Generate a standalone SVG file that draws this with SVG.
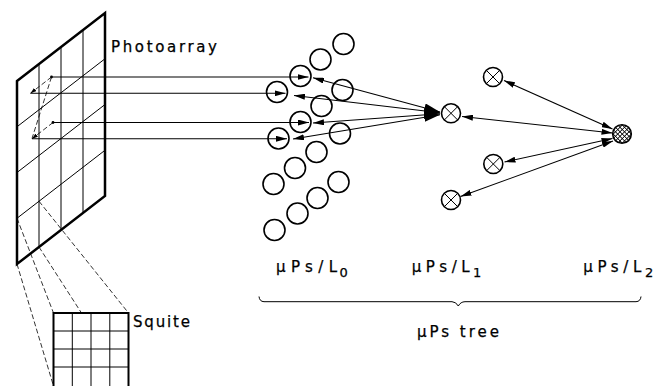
<svg xmlns="http://www.w3.org/2000/svg" width="663" height="386" viewBox="0 0 663 386">
  <style>
    .frame { fill: none; stroke: #000; stroke-width: 2.5; stroke-linejoin: miter; }
    .grid { fill: none; stroke: #000; stroke-width: 1; }
    .dash { fill: none; stroke: #000; stroke-width: 0.8; stroke-dasharray: 5 2.5; }
    .link { fill: none; stroke: #000; stroke-width: 1.1; }
    .pe { fill: #fff; stroke: #000; stroke-width: 1.6; }
    .xmark { stroke: #000; stroke-width: 1; }
    .lbl { font-family: "DejaVu Sans", "Liberation Sans", sans-serif; fill: #000; stroke: #000; stroke-width: 0.25; }
  </style>
  <defs>
    <marker id="ah" viewBox="0 0 11 6" refX="11" refY="3" markerWidth="11" markerHeight="6" markerUnits="userSpaceOnUse" orient="auto-start-reverse">
      <path d="M0,0 L11,3 L0,6 z" fill="#000"/>
    </marker>
    <marker id="ahb" viewBox="0 0 16 9" refX="16" refY="4.5" markerWidth="16" markerHeight="9" markerUnits="userSpaceOnUse" orient="auto-start-reverse">
      <path d="M0,0 L16,4.5 L0,9 z" fill="#000"/>
    </marker>
    <marker id="ahs" viewBox="0 0 6 4" refX="6" refY="2" markerWidth="6" markerHeight="4" markerUnits="userSpaceOnUse" orient="auto">
      <path d="M0,0 L6,2 L0,4 z" fill="#000"/>
    </marker>
    <pattern id="hatch" width="3.2" height="3.2" patternUnits="userSpaceOnUse" patternTransform="rotate(45)">
      <rect width="3.2" height="3.2" fill="#fff"/>
      <path d="M0,0 H3.2 M0,0 V3.2" stroke="#000" stroke-width="1.6"/>
    </pattern>
    <g id="xnode">
      <circle r="9.5" class="pe"/>
      <path d="M-6.7,-6.7 L6.7,6.7 M-6.7,6.7 L6.7,-6.7" class="xmark"/>
    </g>
  </defs>

  <rect width="663" height="386" fill="#fff"/>

  <!-- photo sensor array, shown in perspective -->
  <g id="photoarray">
    <path class="grid" d="M39,64 V247 M61,47 V230 M83,30 V213"/>
    <path class="grid" d="M17,126.75 L105,58.75 M17,172.5 L105,104.5 M17,218.25 L105,150.25"/>
    <polygon class="frame" points="17,81 105,13 105,196 17,264"/>
    <!-- scan order inside the upper cells -->
    <circle cx="51.5" cy="77" r="1.4" fill="#000"/>
    <circle cx="53" cy="122.5" r="1.4" fill="#000"/>
    <line class="dash" x1="51.5" y1="77" x2="30.5" y2="93.3" marker-end="url(#ahs)"/>
    <line class="dash" x1="51.5" y1="77" x2="32" y2="138.5"/>
    <line class="dash" x1="53" y1="122.5" x2="32" y2="138.8" marker-end="url(#ahs)"/>
    <text class="lbl" x="111" y="52" font-size="15" textLength="106" lengthAdjust="spacing">Photoarray</text>
  </g>

  <!-- projection of one cell onto the enlarged squite -->
  <g id="projection">
    <line class="dash" x1="17" y1="218.25" x2="53.5" y2="313"/>
    <line class="dash" x1="39" y1="201.25" x2="128.5" y2="313"/>
    <line class="dash" x1="17" y1="264" x2="53.5" y2="386"/>
    <line class="dash" x1="39" y1="247" x2="128.5" y2="386"/>
  </g>

  <g id="squite">
    <rect x="53.5" y="313" width="75" height="75" fill="#fff" stroke="#000" stroke-width="2"/>
    <path class="grid" d="M72.3,313 V388 M91,313 V388 M109.8,313 V388 M53.5,331 H128.5 M53.5,349 H128.5 M53.5,367 H128.5"/>
    <text class="lbl" x="133" y="327" font-size="15" textLength="57" lengthAdjust="spacing">Squite</text>
  </g>

  <!-- level 0 processors -->
  <g id="level0">
    <circle class="pe" cx="343.5" cy="44" r="10.5"/>
    <circle class="pe" cx="320.5" cy="59.5" r="10.5"/>
    <circle class="pe" cx="300.5" cy="76" r="10.5"/>
    <circle class="pe" cx="342.5" cy="90" r="10.5"/>
    <circle class="pe" cx="277" cy="92" r="10.5"/>
    <circle class="pe" cx="321.5" cy="106" r="10.5"/>
    <circle class="pe" cx="300.5" cy="122" r="10.5"/>
    <circle class="pe" cx="340" cy="133.5" r="10.5"/>
    <circle class="pe" cx="278.5" cy="138.5" r="10.5"/>
    <circle class="pe" cx="316.5" cy="152" r="10.5"/>
    <circle class="pe" cx="295" cy="168" r="10.5"/>
    <circle class="pe" cx="273.5" cy="184" r="10.5"/>
    <circle class="pe" cx="338.5" cy="182" r="10.5"/>
    <circle class="pe" cx="317.5" cy="198" r="10.5"/>
    <circle class="pe" cx="297.5" cy="213.5" r="10.5"/>
    <circle class="pe" cx="274.5" cy="230" r="10.5"/>
  </g>

  <!-- level 1 processors -->
  <g id="level1-a"><use href="#xnode" x="451" y="113.3"/></g>
  <g id="level1-b"><use href="#xnode" x="493" y="77"/></g>
  <g id="level1-c"><use href="#xnode" x="493.3" y="164"/></g>
  <g id="level1-d"><use href="#xnode" x="451" y="200"/></g>

  <!-- level 2 processor -->
  <g id="level2">
    <circle cx="622" cy="134" r="9.3" fill="url(#hatch)" stroke="#000" stroke-width="1.6"/>
  </g>

  <g id="connectors">
    <!-- sensor rows to level 0 -->
    <line class="link" x1="51.5" y1="77" x2="308.5" y2="77" marker-end="url(#ah)"/>
    <line class="link" x1="30.5" y1="93.3" x2="285.5" y2="93.3" marker-end="url(#ah)"/>
    <line class="link" x1="53" y1="122.5" x2="309" y2="122.5" marker-end="url(#ah)"/>
    <line class="link" x1="32" y1="138.8" x2="287" y2="138.8" marker-end="url(#ah)"/>
    <!-- level 0 to level 1 -->
    <line class="link" x1="313" y1="77.8" x2="440" y2="112" marker-start="url(#ah)" marker-end="url(#ahb)"/>
    <line class="link" x1="294" y1="95.5" x2="440" y2="112.8" marker-start="url(#ah)" marker-end="url(#ahb)"/>
    <line class="link" x1="313" y1="123" x2="440" y2="113.8" marker-start="url(#ah)" marker-end="url(#ahb)"/>
    <line class="link" x1="293" y1="139" x2="440" y2="114.8" marker-start="url(#ah)" marker-end="url(#ahb)"/>
    <!-- level 1 to level 2 -->
    <line class="link" x1="504" y1="80.5" x2="612.5" y2="129" marker-start="url(#ah)" marker-end="url(#ah)"/>
    <line class="link" x1="462" y1="116.5" x2="612.5" y2="133" marker-start="url(#ah)" marker-end="url(#ah)"/>
    <line class="link" x1="504.5" y1="162" x2="612.5" y2="138.5" marker-start="url(#ah)" marker-end="url(#ah)"/>
    <line class="link" x1="460.5" y1="196.5" x2="613" y2="141" marker-start="url(#ah)" marker-end="url(#ah)"/>
  </g>

  <!-- level labels and tree brace -->
  <g id="labels">
    <text class="lbl" x="276" y="272" font-size="15" textLength="61" lengthAdjust="spacing">μPs/L</text>
    <text class="lbl" x="339.5" y="276.5" font-size="13">0</text>
    <text class="lbl" x="411.7" y="272" font-size="15" textLength="58" lengthAdjust="spacing">μPs/L</text>
    <text class="lbl" x="473" y="276.5" font-size="13">1</text>
    <text class="lbl" x="583.3" y="272" font-size="15" textLength="58" lengthAdjust="spacing">μPs/L</text>
    <text class="lbl" x="645" y="276.5" font-size="13">2</text>
    <path d="M259,296.5 Q259.5,301.5 264,301.7 H452 Q456,301.8 458.3,306 Q460.6,301.8 465,301.7 H636 Q640.5,301.5 641,296.5" fill="none" stroke="#000" stroke-width="1"/>
    <text class="lbl" x="417" y="337" font-size="15" textLength="82" lengthAdjust="spacing">μPs tree</text>
  </g>
</svg>
